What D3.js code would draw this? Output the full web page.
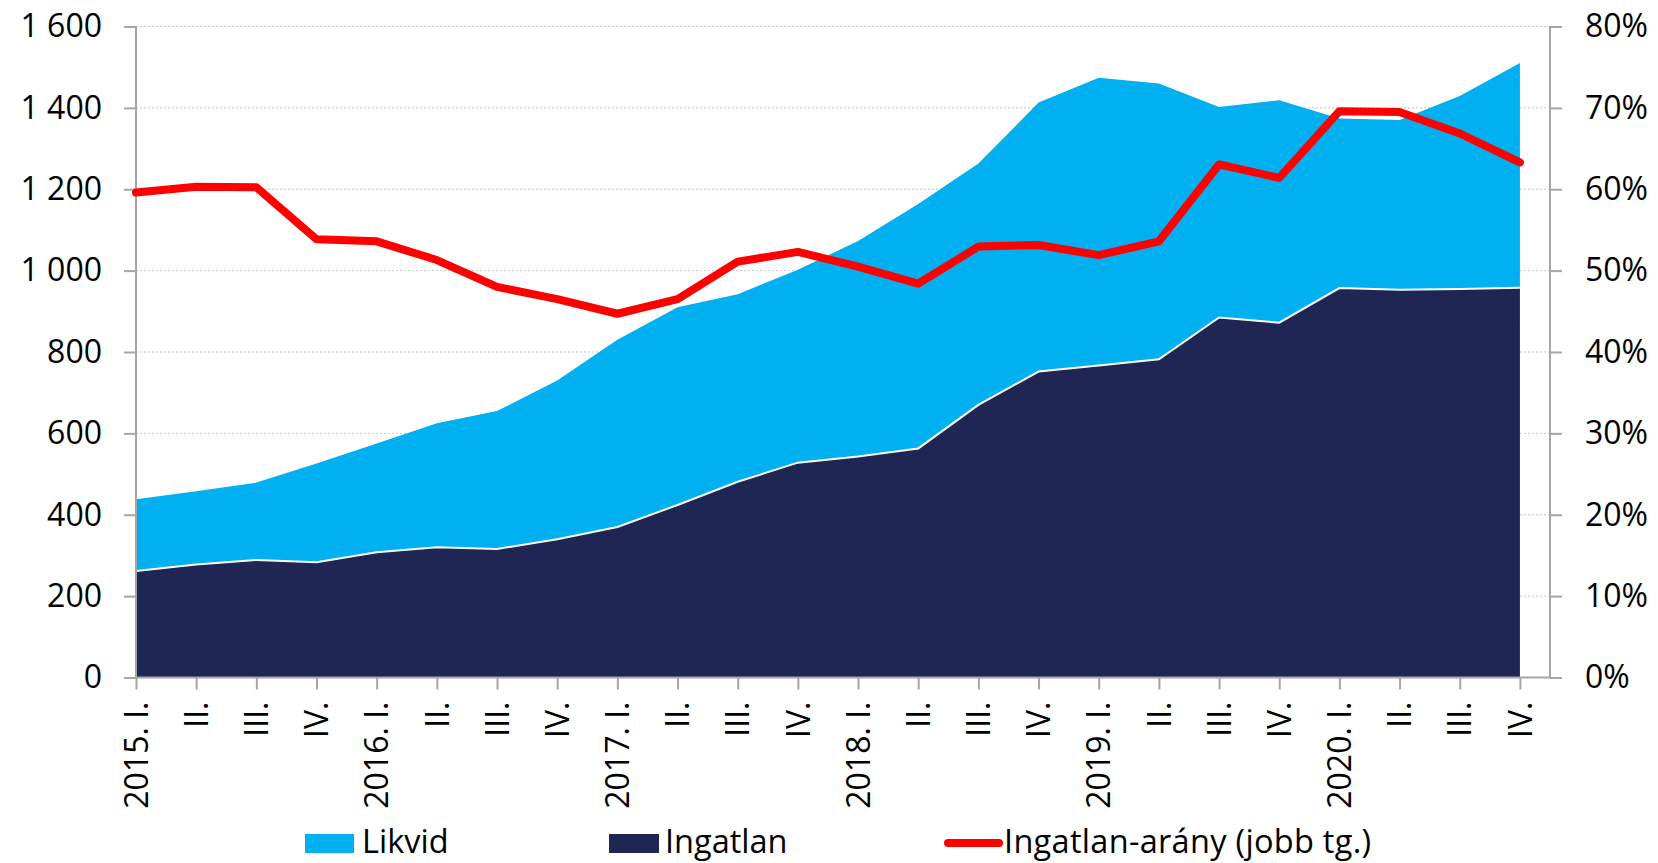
<!DOCTYPE html>
<html>
<head>
<meta charset="utf-8">
<script src="https://cdn.jsdelivr.net/npm/d3@7"></script>
<style>
  html, body { margin: 0; padding: 0; background: #ffffff; }
  svg text { font-family: "Open Sans", sans-serif; fill: #000000; }
</style>
</head>
<body>
<div id="chart"></div>
<script>
(function() {

  "use strict";

  var quarters = ['2015. I.', 'II.', 'III.', 'IV.',
    '2016. I.', 'II.', 'III.', 'IV.',
    '2017. I.', 'II.', 'III.', 'IV.',
    '2018. I.', 'II.', 'III.', 'IV.',
    '2019. I.', 'II.', 'III.', 'IV.',
    '2020. I.', 'II.', 'III.', 'IV.'];

  // milliard Ft
  var ingatlan = [262, 278, 289, 283, 308, 320, 316, 340, 370, 424, 481, 528,
    543, 563, 670, 752, 767, 782, 885, 872, 957, 953, 955, 958];
  var likvid = [176, 180, 190, 243, 267, 305, 339, 390, 460, 486, 461, 474,
    530, 601, 593, 661, 707, 678, 517, 547, 417, 417, 474, 552];
  // %, right axis
  var arany = [59.6, 60.3, 60.25, 53.85, 53.6, 51.3, 48.0, 46.5, 44.7, 46.5, 51.1, 52.3,
    50.5, 48.4, 52.95, 53.15, 51.9, 53.6, 63.05, 61.4, 69.6, 69.5, 66.85, 63.3];

  var leftTicks = [0, 200, 400, 600, 800, 1000, 1200, 1400, 1600];
  var rightTicks = [0, 10, 20, 30, 40, 50, 60, 70, 80];

  var width = 1658, height = 863;
  var margin = { top: 26.5, right: 108, bottom: 185.5, left: 136 };

  var colors = {
    likvid: '#00b0f0',
    ingatlan: '#202654',
    arany: '#ff0000',
    axis: '#a6a6a6',
    grid: '#c6c6c6'
  };

  var svg = d3.select('#chart').append('svg')
    .attr('width', width)
    .attr('height', height);

  var x = d3.scaleLinear()
    .domain([0, quarters.length - 0.5])
    .range([margin.left, width - margin.right]);
  var y = d3.scaleLinear()
    .domain([0, 1600])
    .range([height - margin.bottom, margin.top]);
  var y2 = d3.scaleLinear()
    .domain([0, 80])
    .range([height - margin.bottom, margin.top]);

  var rows = quarters.map(function(q, i) {
    return { i: i, ingatlan: ingatlan[i], likvid: likvid[i] };
  });
  var stacked = d3.stack().keys(['ingatlan', 'likvid'])(rows);

  // gridlines
  svg.append('g')
    .selectAll('line')
    .data(leftTicks.slice(1))
    .enter()
    .append('line')
    .attr('x1', x(0))
    .attr('x2', x.range()[1])
    .attr('y1', function(d) { return y(d); })
    .attr('y2', function(d) { return y(d); })
    .attr('stroke', colors.grid)
    .attr('stroke-width', 1)
    .attr('stroke-dasharray', '2,2');

  var area = d3.area()
    .x(function(d) { return x(d.data.i); })
    .y0(function(d) { return y(d[0]); })
    .y1(function(d) { return y(d[1]); });

  svg.append('path')
    .datum(stacked[1])
    .attr('fill', colors.likvid)
    .attr('d', area);

  svg.append('path')
    .datum(stacked[0])
    .attr('fill', colors.ingatlan)
    .attr('d', area);

  // white edge on top of the Ingatlan area
  svg.append('path')
    .datum(stacked[0])
    .attr('fill', 'none')
    .attr('stroke', '#ffffff')
    .attr('stroke-width', 2)
    .attr('d', d3.line()
      .x(function(d) { return x(d.data.i); })
      .y(function(d) { return y(d[1]); }));

  // axes
  var axisLeft = svg.append('g')
    .attr('transform', 'translate(' + x(0) + ',0)')
    .call(d3.axisLeft(y).tickValues(leftTicks).tickSize(12).tickPadding(22)
      .tickFormat(function(d) { return d3.format(',')(d).replace(',', ' '); }));

  var axisRight = svg.append('g')
    .attr('transform', 'translate(' + x.range()[1] + ',0)')
    .call(d3.axisRight(y2).tickValues(rightTicks).tickSize(12).tickPadding(23)
      .tickFormat(function(d) { return d + '%'; }));

  var axisBottom = svg.append('g')
    .attr('transform', 'translate(0,' + y(0) + ')')
    .call(d3.axisBottom(x).tickValues(d3.range(quarters.length)).tickSize(12)
      .tickFormat(function(d) { return quarters[d]; }));

  axisBottom.selectAll('text')
    .attr('transform', 'rotate(-90)')
    .attr('x', -24)
    .attr('y', 0)
    .attr('dy', '0.35em')
    .style('text-anchor', 'end');

  [axisLeft, axisRight, axisBottom].forEach(function(g) {
    g.select('.domain').attr('stroke', colors.axis).attr('stroke-width', 2);
    g.selectAll('.tick line').attr('stroke', colors.axis).attr('stroke-width', 2);
    g.selectAll('text')
      .style('font-family', '"Open Sans", sans-serif')
      .style('font-size', '32px')
      .attr('fill', '#000000');
  });
  axisLeft.select('.domain').attr('d', 'M0,' + y(0) + 'V' + y(1600));
  axisRight.select('.domain').attr('d', 'M0,' + y(0) + 'V' + y(1600));
  axisBottom.select('.domain').attr('d', 'M' + x(0) + ',0H' + x.range()[1]);

  // ratio line
  svg.append('path')
    .datum(arany)
    .attr('fill', 'none')
    .attr('stroke', colors.arany)
    .attr('stroke-width', 8)
    .attr('stroke-linejoin', 'round')
    .attr('stroke-linecap', 'round')
    .attr('d', d3.line()
      .x(function(d, i) { return x(i); })
      .y(function(d) { return y2(d); }));

  // legend
  var legend = svg.append('g').attr('class', 'legend');
  var legendY = 853;

  legend.append('rect')
    .attr('x', 305).attr('y', legendY - 19)
    .attr('width', 49).attr('height', 19)
    .attr('fill', colors.likvid);
  legend.append('text')
    .attr('x', 362).attr('y', legendY)
    .style('font-size', '32.5px')
    .text('Likvid');

  legend.append('rect')
    .attr('x', 609).attr('y', legendY - 19)
    .attr('width', 50).attr('height', 19)
    .attr('fill', colors.ingatlan);
  legend.append('text')
    .attr('x', 665).attr('y', legendY)
    .style('font-size', '32.5px')
    .text('Ingatlan');

  legend.append('line')
    .attr('x1', 948).attr('x2', 999)
    .attr('y1', legendY - 10).attr('y2', legendY - 10)
    .attr('stroke', colors.arany)
    .attr('stroke-width', 8)
    .attr('stroke-linecap', 'round');
  legend.append('text')
    .attr('x', 1004).attr('y', legendY)
    .style('font-size', '32.5px')
    .style('letter-spacing', '0.3px')
    .text('Ingatlan-arány (jobb tg.)');

})();
</script>
</body>
</html>
